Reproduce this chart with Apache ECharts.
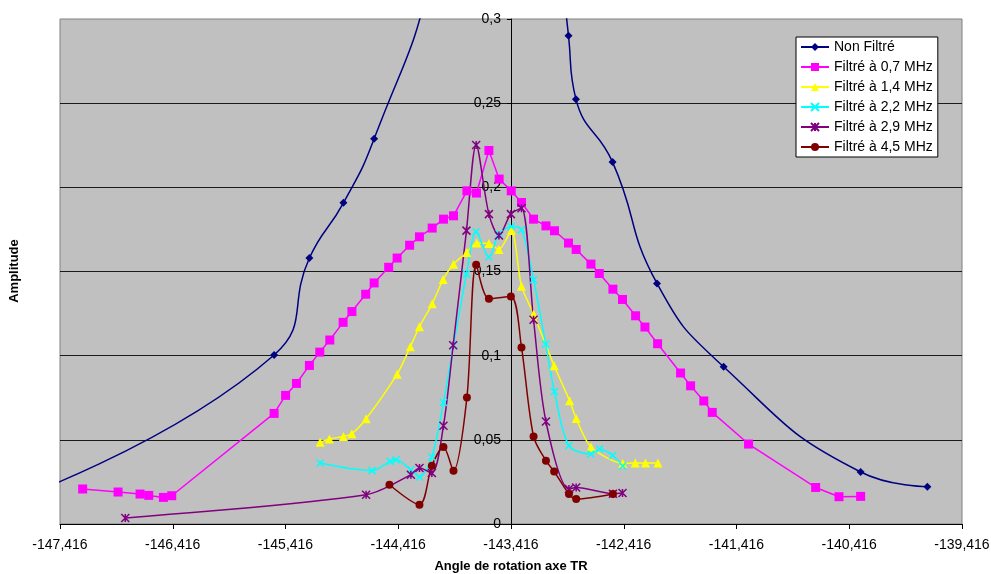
<!DOCTYPE html>
<html>
<head>
<meta charset="utf-8">
<script src="https://cdn.jsdelivr.net/npm/echarts@6/dist/echarts.min.js"></script>
<style>html,body{margin:0;padding:0;background:#fff}#c{width:991px;height:574px}</style>
</head>
<body>
<div id="c"></div>
<script>
// ---- tick labels ----
const xTicks = [-147.416, -146.416, -145.416, -144.416, -143.416, -142.416, -141.416, -140.416, -139.416];

// ---- Non Filtré ----
const nonFiltreX = [-147.916, -145.517, -145.204, -144.902, -144.630, -144.116, -143.816, -143.416, -143.116, -142.966, -142.906, -142.840, -142.515, -142.121, -141.530, -140.315, -139.723];
const nonFiltreY = [0.012, 0.1004, 0.158, 0.1908, 0.2288, 0.33, 0.48, 0.56, 0.46, 0.33, 0.2901, 0.2524, 0.2150, 0.1429, 0.0934, 0.0309, 0.0222];

// ---- Filtré à 0,7 MHz ----
const f07X = [-147.215, -146.901, -146.706, -146.629, -146.499, -146.425, -145.517, -145.415, -145.319, -145.204, -145.112, -145.023, -144.905, -144.827, -144.705, -144.630, -144.501, -144.426, -144.315, -144.228, -144.115, -144.015, -143.926, -143.807, -143.722, -143.612, -143.521, -143.414, -143.323, -143.216, -143.106, -143.030, -142.906, -142.838, -142.707, -142.633, -142.512, -142.427, -142.311, -142.228, -142.116, -141.912, -141.823, -141.706, -141.631, -141.309, -140.714, -140.507, -140.315];
const f07Y = [0.0208, 0.0190, 0.0178, 0.0170, 0.0158, 0.0168, 0.0657, 0.0764, 0.0835, 0.0942, 0.1021, 0.1093, 0.1198, 0.1262, 0.1365, 0.1432, 0.1525, 0.1580, 0.1656, 0.1706, 0.1758, 0.1811, 0.1831, 0.1979, 0.1966, 0.2219, 0.2049, 0.1979, 0.1910, 0.1811, 0.1771, 0.1742, 0.1669, 0.1631, 0.1544, 0.1488, 0.1395, 0.1334, 0.1237, 0.1170, 0.1071, 0.0897, 0.0821, 0.0731, 0.0663, 0.0475, 0.0217, 0.0162, 0.0164];

// ---- Filtré à 1,4 MHz ----
const f14X = [-145.109, -145.027, -144.902, -144.828, -144.701, -144.426, -144.309, -144.228, -144.115, -144.018, -143.926, -143.809, -143.720, -143.612, -143.523, -143.412, -143.323, -143.216, -143.033, -142.896, -142.838, -142.707, -142.425, -142.314, -142.223, -142.113];
const f14Y = [0.0485, 0.0505, 0.0520, 0.0536, 0.0625, 0.0890, 0.1053, 0.1172, 0.1308, 0.1452, 0.1543, 0.1613, 0.1669, 0.1666, 0.1631, 0.1743, 0.1413, 0.1248, 0.0940, 0.0732, 0.0626, 0.0457, 0.0360, 0.0362, 0.0362, 0.0362];

// ---- Filtré à 2,2 MHz ----
const f22X = [-145.109, -144.648, -144.488, -144.435, -144.304, -144.228, -144.118, -144.015, -143.926, -143.811, -143.725, -143.612, -143.521, -143.414, -143.323, -143.216, -143.108, -143.031, -142.902, -142.707, -142.631, -142.514, -142.425];
const f22Y = [0.0362, 0.0317, 0.0372, 0.0382, 0.0322, 0.0279, 0.0398, 0.0722, 0.1059, 0.1485, 0.1736, 0.1586, 0.1724, 0.1767, 0.1748, 0.1451, 0.1068, 0.0787, 0.0465, 0.0416, 0.0445, 0.0407, 0.0345];

// ---- Filtré à 2,9 MHz ----
const f29X = [-146.837, -144.701, -144.304, -144.228, -144.118, -144.015, -143.929, -143.811, -143.725, -143.612, -143.523, -143.417, -143.323, -143.216, -143.106, -142.902, -142.838, -142.512, -142.427];
const f29Y = [0.0036, 0.0174, 0.0293, 0.0333, 0.0303, 0.0584, 0.1062, 0.1743, 0.2252, 0.1841, 0.1714, 0.1841, 0.1876, 0.1213, 0.0609, 0.0208, 0.0217, 0.0180, 0.0184];

// ---- Filtré à 4,5 MHz ----
const f45X = [-144.494, -144.228, -144.118, -144.015, -143.926, -143.807, -143.725, -143.612, -143.417, -143.323, -143.216, -143.106, -143.033, -142.902, -142.838, -142.512];
const f45Y = [0.0233, 0.0115, 0.0346, 0.0457, 0.0317, 0.0752, 0.1540, 0.1338, 0.1352, 0.1049, 0.0520, 0.0376, 0.0312, 0.0178, 0.0148, 0.0178];

const seriesNames = ['Non Filtré', 'Filtré à 0,7 MHz', 'Filtré à 1,4 MHz', 'Filtré à 2,2 MHz', 'Filtré à 2,9 MHz', 'Filtré à 4,5 MHz'];

const FONT = "'Liberation Sans', Arial, sans-serif";
const zip = (xs, ys) => xs.map((x, i) => [x, ys[i]]);
const fmtX = v => Number(v).toFixed(3).replace('.', ',');
const fmtY = v => String(+Number(v).toFixed(2)).replace('.', ',');

function mk(name, xs, ys, color, symbol, size, smooth, stroke) {
  return {
    name: name, type: 'line', data: zip(xs, ys), smooth: smooth,
    symbol: symbol, symbolSize: size, clip: true,
    lineStyle: { color: color, width: 1.5 },
    itemStyle: stroke ? { color: color, borderColor: color, borderWidth: 1.5 } : { color: color },
    emphasis: { disabled: true }
  };
}

const chart = echarts.init(document.getElementById('c'), null, { renderer: 'canvas' });
chart.setOption({
  animation: false,
  backgroundColor: '#ffffff',
  textStyle: { fontFamily: FONT },
  grid: { left: 60, right: 29, top: 19, bottom: 50, show: true, containLabel: false, outerBoundsMode: 'none', backgroundColor: '#C0C0C0', borderColor: '#808080', borderWidth: 1 },
  xAxis: {
    type: 'value', min: xTicks[0], max: xTicks[xTicks.length - 1],
    axisLine: { onZero: false, lineStyle: { color: '#000', width: 1 } },
    splitLine: { show: false },
    axisTick: { show: true, customValues: xTicks, length: 5, lineStyle: { color: '#000' } },
    axisLabel: { customValues: xTicks, formatter: fmtX, color: '#000', fontSize: 14, fontFamily: FONT, margin: 14 },
    name: 'Angle de rotation axe TR', nameLocation: 'middle', nameGap: 36,
    nameTextStyle: { fontWeight: 'bold', fontSize: 13, color: '#000', fontFamily: FONT }
  },
  yAxis: {
    type: 'value', min: 0, max: 0.3, interval: 0.05, offset: -451,
    axisLine: { show: true, onZero: false, lineStyle: { color: '#000', width: 1 } },
    axisTick: { show: true, length: 4, lineStyle: { color: '#000' } },
    axisLabel: { formatter: fmtY, color: '#000', fontSize: 14, fontFamily: FONT, margin: 10 },
    splitLine: { show: true, showMaxLine: false, lineStyle: { color: '#1a1a1a', width: 1 } }
  },
  graphic: [{
    type: 'text', x: 14, y: 271, rotation: Math.PI / 2,
    style: { text: 'Amplitude', font: 'bold 13px ' + FONT, fill: '#000', textAlign: 'center', textVerticalAlign: 'middle' }
  }],
  legend: {
    orient: 'vertical', left: 796, top: 37,
    backgroundColor: '#ffffff', borderColor: '#000', borderWidth: 1,
    padding: [3, 5, 3, 4], itemWidth: 28, itemHeight: 10, itemGap: 6,
    textStyle: { fontSize: 14, color: '#000', fontFamily: FONT },
    data: seriesNames
  },
  series: [
    mk(seriesNames[0], nonFiltreX, nonFiltreY, '#000080', 'diamond', 8, 0.5, false),
    mk(seriesNames[1], f07X, f07Y, '#FF00FF', 'rect', 9, 0, false),
    mk(seriesNames[2], f14X, f14Y, '#FFFF00', 'triangle', 9, 0.25, false),
    mk(seriesNames[3], f22X, f22Y, '#00FFFF', 'path://M0,0L10,10M10,0L0,10', 7, 0.3, true),
    mk(seriesNames[4], f29X, f29Y, '#800080', 'path://M0,0L10,10M10,0L0,10M5,0L5,10', 8, 0.3, true),
    mk(seriesNames[5], f45X, f45Y, '#800000', 'circle', 8, 0.3, false)
  ]
});
</script>
</body>
</html>
